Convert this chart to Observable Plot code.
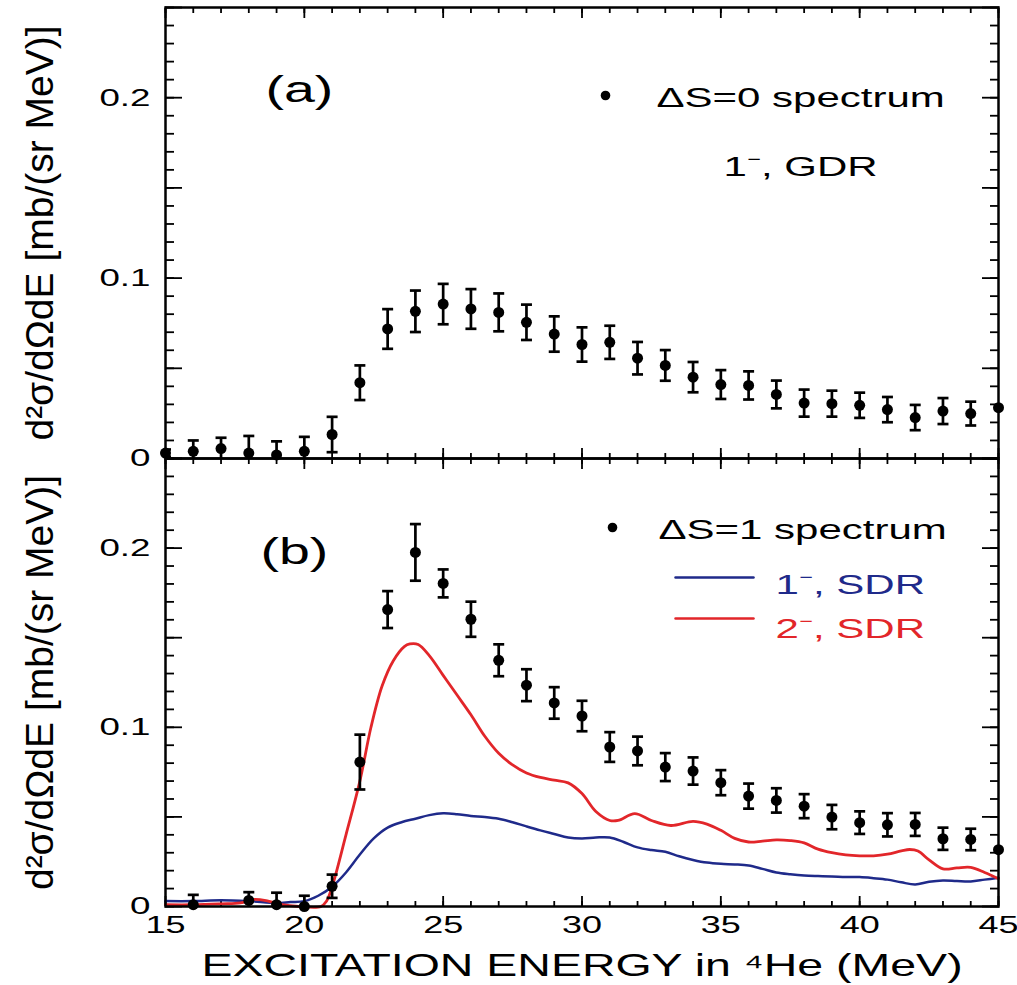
<!DOCTYPE html>
<html>
<head>
<meta charset="utf-8">
<script src="https://cdn.jsdelivr.net/npm/d3@7"></script>
<script src="https://cdn.jsdelivr.net/npm/@observablehq/plot@0.6"></script>
<style>
  body { margin: 0; background: #fff; }
  #chart { width: 1017px; }
  #chart svg { display: block; overflow: visible; }
</style>
</head>
<body>
<div id="chart"></div>
<script>
// (a) ΔS=0 spectrum: excitation energy (MeV), cross section and error
const energyA = [15,16,17,18,19,20,21,22,23,24,25,26,27,28,29,30,31,32,33,34,35,36,37,38,39,40,41,42,43,44,45];
const sigmaA = [0.003,0.004,0.0055,0.003,0.002,0.004,0.0133,0.042,0.0718,0.0816,0.0856,0.0829,0.081,0.0755,0.069,0.0632,0.0644,0.0556,0.0516,0.0451,0.041,0.0405,0.0355,0.0307,0.0304,0.0295,0.0271,0.0227,0.0263,0.0249,0.0282];
const errA = [0.002,0.006,0.006,0.0095,0.0075,0.008,0.0098,0.0096,0.011,0.0115,0.0112,0.011,0.0105,0.0098,0.0098,0.0095,0.0092,0.009,0.0085,0.0084,0.008,0.0078,0.0077,0.0075,0.0072,0.007,0.007,0.007,0.0072,0.0066,0];

// (b) ΔS=1 spectrum
const energyB = [16,18,19,20,21,22,23,24,25,26,27,28,29,30,31,32,33,34,35,36,37,38,39,40,41,42,43,44,45];
const sigmaB = [0.001,0.0034,0.001,0.0,0.0113,0.0806,0.1657,0.1976,0.1803,0.1603,0.1374,0.1235,0.1136,0.1063,0.089,0.0868,0.0778,0.0756,0.0691,0.0616,0.0592,0.056,0.0499,0.0468,0.0456,0.0458,0.0378,0.0374,0.0317];
const errB = [0.0055,0.0046,0.0067,0.006,0.0065,0.0153,0.0103,0.0158,0.0078,0.0098,0.0089,0.0089,0.0088,0.0085,0.0083,0.008,0.0078,0.0076,0.007,0.007,0.0068,0.0067,0.0068,0.0063,0.0065,0.0064,0.0062,0.006,0];

// 1− SDR calculation
const sdr1Energy = [15,16,17,18,19,19.5,20,20.5,21,21.5,22,22.5,23,23.5,24,24.5,25,25.5,26,26.5,27,27.5,28,28.5,29,29.5,30,30.5,31,31.5,32,32.5,33,33.5,34,34.5,35,35.5,36,36.5,37,37.5,38,38.5,39,39.5,40,40.5,41,41.5,42,42.5,43,43.5,44,44.5,45];
const sdr1Sigma = [0.003,0.003,0.0035,0.003,0.002,0.0025,0.003,0.006,0.011,0.019,0.029,0.038,0.044,0.047,0.049,0.051,0.052,0.0515,0.0505,0.05,0.049,0.047,0.0447,0.0425,0.0405,0.0385,0.038,0.0385,0.0385,0.036,0.033,0.0315,0.0305,0.028,0.026,0.0245,0.0238,0.0235,0.0229,0.021,0.019,0.018,0.0173,0.017,0.0168,0.0165,0.0164,0.0158,0.015,0.0135,0.0123,0.0138,0.0145,0.0142,0.014,0.015,0.016];

// 2− SDR calculation
const sdr2Energy = [15,16,17,17.7,18.2,18.7,19.2,19.8,20.6,20.8,21,21.5,22,22.4,22.8,23.2,23.6,23.8,24.1,24.5,25,25.5,26,26.5,27,27.5,28,28.5,29,29.5,30,30.5,31,31.3,31.9,32.5,33.2,34,34.5,35,35.5,36,36.5,37,37.5,38,38.5,39,39.5,40,40.5,41,41.5,41.8,42.1,42.5,43,43.5,44,44.5,45];
const sdr2Sigma = [0.001,0.001,0.0015,0.002,0.004,0.003,0.001,0,0,0.003,0.011,0.04,0.07,0.1,0.123,0.137,0.145,0.1465,0.1462,0.14,0.129,0.118,0.107,0.095,0.0855,0.079,0.0745,0.072,0.0705,0.069,0.063,0.053,0.048,0.048,0.0518,0.048,0.0452,0.0475,0.046,0.0425,0.038,0.036,0.0365,0.0372,0.0368,0.0355,0.032,0.03,0.0288,0.0283,0.0283,0.0292,0.031,0.0318,0.031,0.026,0.021,0.0215,0.0218,0.019,0.0155];

// axis ticks and labels
const minorX = d3.range(15, 46);
const majorX = [15, 20, 25, 30, 35, 40, 45];
const minorY = d3.range(0, 26).map(i => i / 100);
const majorY = [0, 0.05, 0.1, 0.15, 0.2, 0.25];
const xTickLabels = [15, 20, 25, 30, 35, 40, 45];
const yTickLabels = [0, 0.1, 0.2];

const yTitle = "d²σ/dΩdE [mb/(sr MeV)]";
const xTitle = "EXCITATION ENERGY in ⁴He (MeV)";

const BLUE = "#1f2a8a";
const RED = "#e2262a";
const FONT = "'Liberation Sans', Arial, Helvetica, sans-serif";

const rows = (E, S, Er) => E.map((e, i) => ({E: e, s: S[i], err: Er ? Er[i] : 0}));
const ptsA = rows(energyA, sigmaA, errA);
const ptsB = rows(energyB, sigmaB, errB);
const curve1 = rows(sdr1Energy, sdr1Sigma);
const curve2 = rows(sdr2Energy, sdr2Sigma);

// horizontal cap for error bars
const capSymbol = {draw(ctx, size) { const w = Math.sqrt(size / Math.PI); ctx.moveTo(-w, 0); ctx.lineTo(w, 0); }};
// straight legend swatch drawn by the vector mark
const swatchShape = {draw(ctx, l) { ctx.moveTo(0, 0); ctx.lineTo(0, -l); }};

function innerTicks() {
  const t = {tickFormat: () => "", strokeWidth: 1.8};
  return [
    Plot.axisX({...t, anchor: "bottom", ticks: minorX, tickSize: -5}),
    Plot.axisX({...t, anchor: "bottom", ticks: majorX, tickSize: -10}),
    Plot.axisX({...t, anchor: "top", ticks: minorX, tickSize: -5}),
    Plot.axisX({...t, anchor: "top", ticks: majorX, tickSize: -10}),
    Plot.axisY({...t, anchor: "left", ticks: minorY, tickSize: -9}),
    Plot.axisY({...t, anchor: "left", ticks: majorY, tickSize: -17}),
    Plot.axisY({...t, anchor: "right", ticks: minorY, tickSize: -9}),
    Plot.axisY({...t, anchor: "right", ticks: majorY, tickSize: -17})
  ];
}

function dataMarks(pts) {
  const withErr = pts.filter(d => d.err > 0);
  return [
    Plot.ruleX(withErr, {x: "E", y1: d => d.s - d.err, y2: d => d.s + d.err, stroke: "black", strokeWidth: 2.7, clip: true}),
    Plot.dot(withErr, {x: "E", y: d => d.s + d.err, symbol: capSymbol, r: 5.5, stroke: "black", strokeWidth: 2.7, fill: "none", clip: true}),
    Plot.dot(withErr, {x: "E", y: d => d.s - d.err, symbol: capSymbol, r: 5.5, stroke: "black", strokeWidth: 2.7, fill: "none", clip: true}),
    Plot.dot(pts, {x: "E", y: "s", r: 5.5, fill: "black", stroke: "none"})
  ];
}

function yLabels() {
  return [
    Plot.axisY({anchor: "left", ticks: yTickLabels, tickSize: 0, tickPadding: 15, fontSize: 24.5,
      tickFormat: d => d === 0 ? "0" : d.toFixed(1)}),
    Plot.text([yTitle], {frameAnchor: "left", rotate: -90, dx: -125, textAnchor: "middle", lineAnchor: "middle", fontSize: 39})
  ];
}

function basePlot(opts) {
  return Plot.plot({
    width: 1017,
    marginLeft: 165,
    marginRight: 19,
    x: {domain: [15, 45], label: null},
    y: {domain: [0, 0.25], label: null},
    style: {fontFamily: FONT, color: "black", background: "transparent", overflow: "visible"},
    ...opts
  });
}

const panelA = basePlot({
  height: 458, marginTop: 7, marginBottom: 0,
  marks: [
    ...innerTicks(),
    ...yLabels(),
    ...dataMarks(ptsA),
    Plot.frame({stroke: "black", strokeWidth: 2.5}),
    Plot.text(["(a)"], {frameAnchor: "top-left", dx: 100, dy: 83, textAnchor: "start", lineAnchor: "middle", fontSize: 37}),
    Plot.dot([null], {frameAnchor: "top-left", dx: 440, dy: 88, r: 4.8, fill: "black"}),
    Plot.text(["ΔS=0 spectrum"], {frameAnchor: "top-left", dx: 491, dy: 91, textAnchor: "start", lineAnchor: "middle", fontSize: 28}),
    Plot.text(["1⁻, GDR"], {frameAnchor: "top-left", dx: 558, dy: 160, textAnchor: "start", lineAnchor: "middle", fontSize: 28})
  ]
});

const panelB = basePlot({
  height: 527, marginTop: 0, marginBottom: 79,
  marks: [
    ...innerTicks(),
    ...yLabels(),
    Plot.axisX({anchor: "bottom", ticks: xTickLabels, tickSize: 0, tickPadding: 9, fontSize: 24}),
    Plot.text([xTitle], {frameAnchor: "bottom", dy: 60, lineAnchor: "middle", fontSize: 31}),
    Plot.line(curve1, {x: "E", y: "s", stroke: BLUE, strokeWidth: 2.5, curve: "catmull-rom"}),
    Plot.line(curve2, {x: "E", y: "s", stroke: RED, strokeWidth: 2.8, curve: "catmull-rom"}),
    ...dataMarks(ptsB),
    Plot.frame({stroke: "black", strokeWidth: 2.5}),
    Plot.text(["(b)"], {frameAnchor: "top-left", dx: 95, dy: 94, textAnchor: "start", lineAnchor: "middle", fontSize: 37}),
    Plot.dot([null], {frameAnchor: "top-left", dx: 447, dy: 69, r: 4.8, fill: "black"}),
    Plot.text(["ΔS=1 spectrum"], {frameAnchor: "top-left", dx: 493, dy: 72, textAnchor: "start", lineAnchor: "middle", fontSize: 28}),
    Plot.vector([null], {frameAnchor: "top-left", dx: 510, dy: 119, length: 78, rotate: 90, anchor: "start", shape: swatchShape, stroke: BLUE, strokeWidth: 2.5}),
    Plot.text(["1⁻, SDR"], {frameAnchor: "top-left", dx: 610, dy: 127, textAnchor: "start", lineAnchor: "middle", fontSize: 28, fill: BLUE}),
    Plot.vector([null], {frameAnchor: "top-left", dx: 510, dy: 160, length: 78, rotate: 90, anchor: "start", shape: swatchShape, stroke: RED, strokeWidth: 2.5}),
    Plot.text(["2⁻, SDR"], {frameAnchor: "top-left", dx: 610, dy: 171, textAnchor: "start", lineAnchor: "middle", fontSize: 28, fill: RED})
  ]
});

// widen horizontal lettering, as in the printed figure
function widenText(svg, sx) {
  d3.select(svg).selectAll("text").each(function() {
    const t = this.getAttribute("transform");
    if (t && t.includes("rotate")) return;
    if (t) {
      this.setAttribute("transform", `${t} scale(${sx},1)`);
    } else {
      const x = +this.getAttribute("x") || 0, y = +this.getAttribute("y") || 0;
      this.setAttribute("transform", `translate(${x},${y}) scale(${sx},1) translate(${-x},${-y})`);
    }
  });
}

const chart = document.getElementById("chart");
for (const p of [panelA, panelB]) {
  widenText(p, 1.5);
  chart.appendChild(p);
}
</script>
</body>
</html>
